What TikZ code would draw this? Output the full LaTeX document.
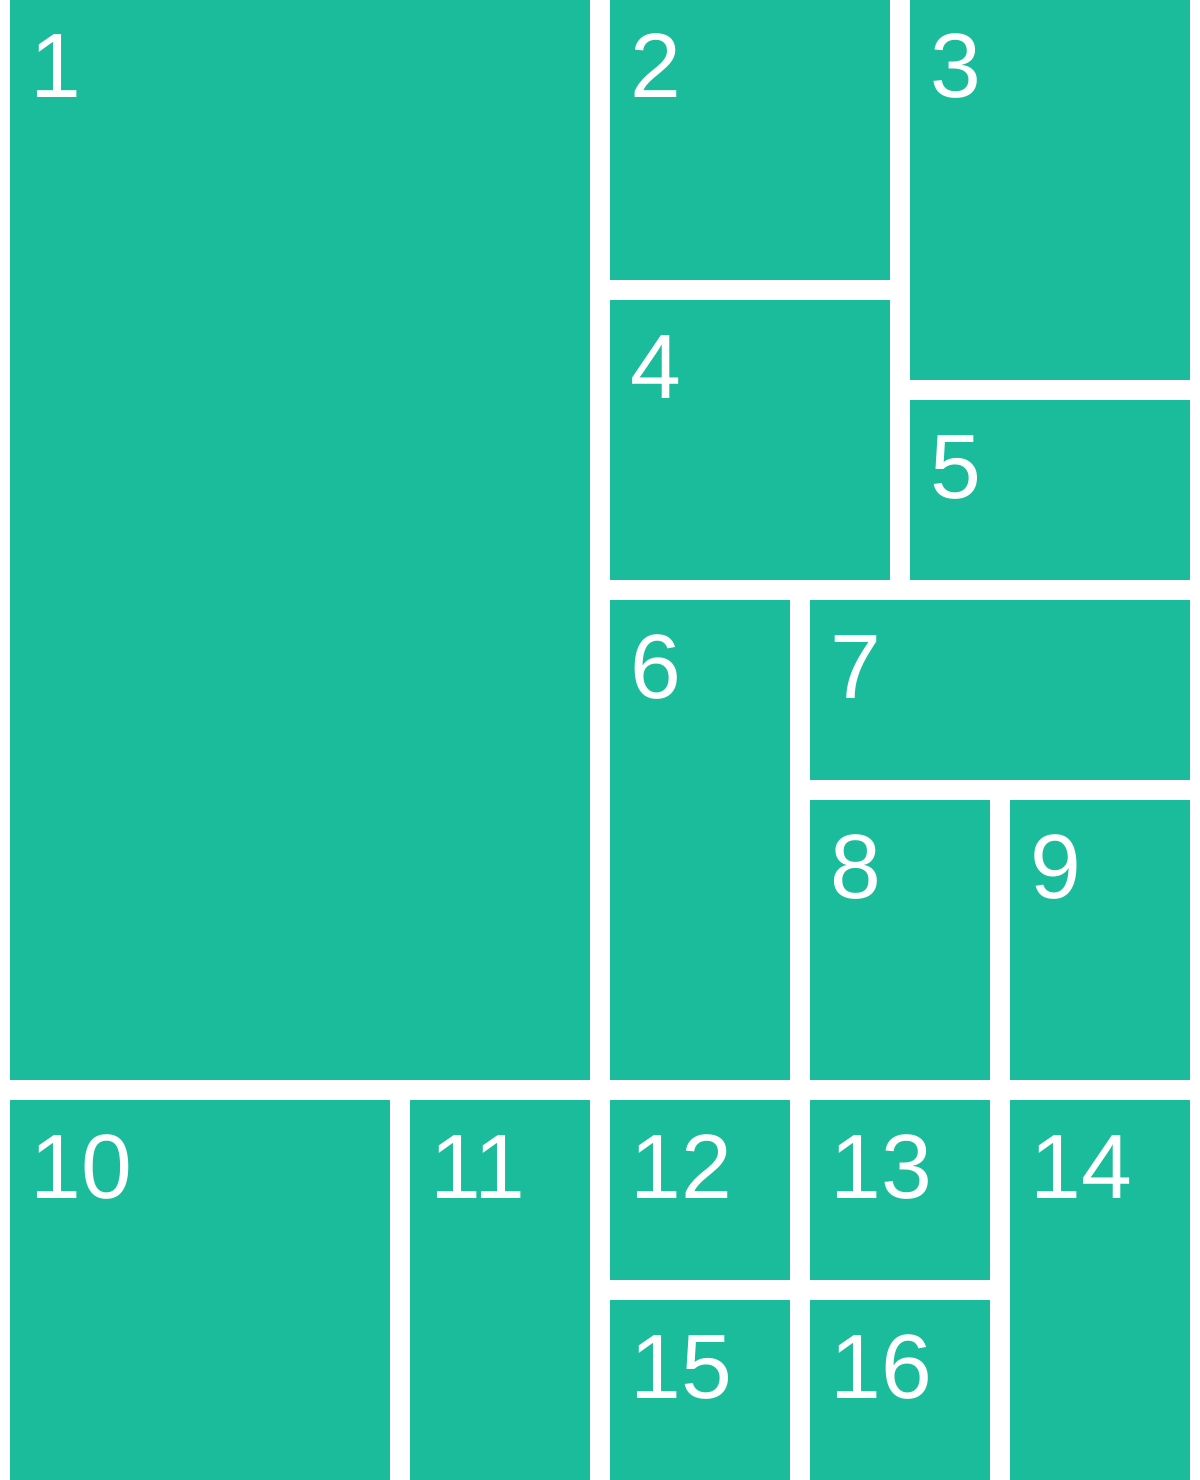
\documentclass[tikz,border=0pt]{standalone}
\usepackage{fontspec}
\setmainfont{Liberation Sans}
\usepackage{tikz}
\definecolor{tealtile}{HTML}{1ABC9C}

\begin{document}
\begin{tikzpicture}[x=0.2mm,y=-0.2mm,
    tile/.style={fill=tealtile,draw=none,inner sep=0pt,anchor=north west},
    num/.style={text=white,inner sep=0pt,anchor=base west,font=\fontsize{52}{52}\selectfont}]
        \useasboundingbox[fill=white] (0,0) rectangle (1200,1480);
        % tiles: number/left/top/width/height
        \foreach \n/\x/\y/\w/\h in {1/10/0/580/1080,2/610/0/280/280,3/910/0/280/380,4/610/300/280/280,5/910/400/280/180,6/610/600/180/480,7/810/600/380/180,8/810/800/180/280,9/1010/800/180/280,10/10/1100/380/380,11/410/1100/180/380,12/610/1100/180/180,13/810/1100/180/180,14/1010/1100/180/380,15/610/1300/180/180,16/810/1300/180/180}{
          \node[tile,minimum width=\w*0.2mm,minimum height=\h*0.2mm] (b\n) at (\x,\y) {};
          \node[num] (n\n) at ([shift={(20,98)}]b\n.north west) {\n};
        }
      \end{tikzpicture}
\end{document}
